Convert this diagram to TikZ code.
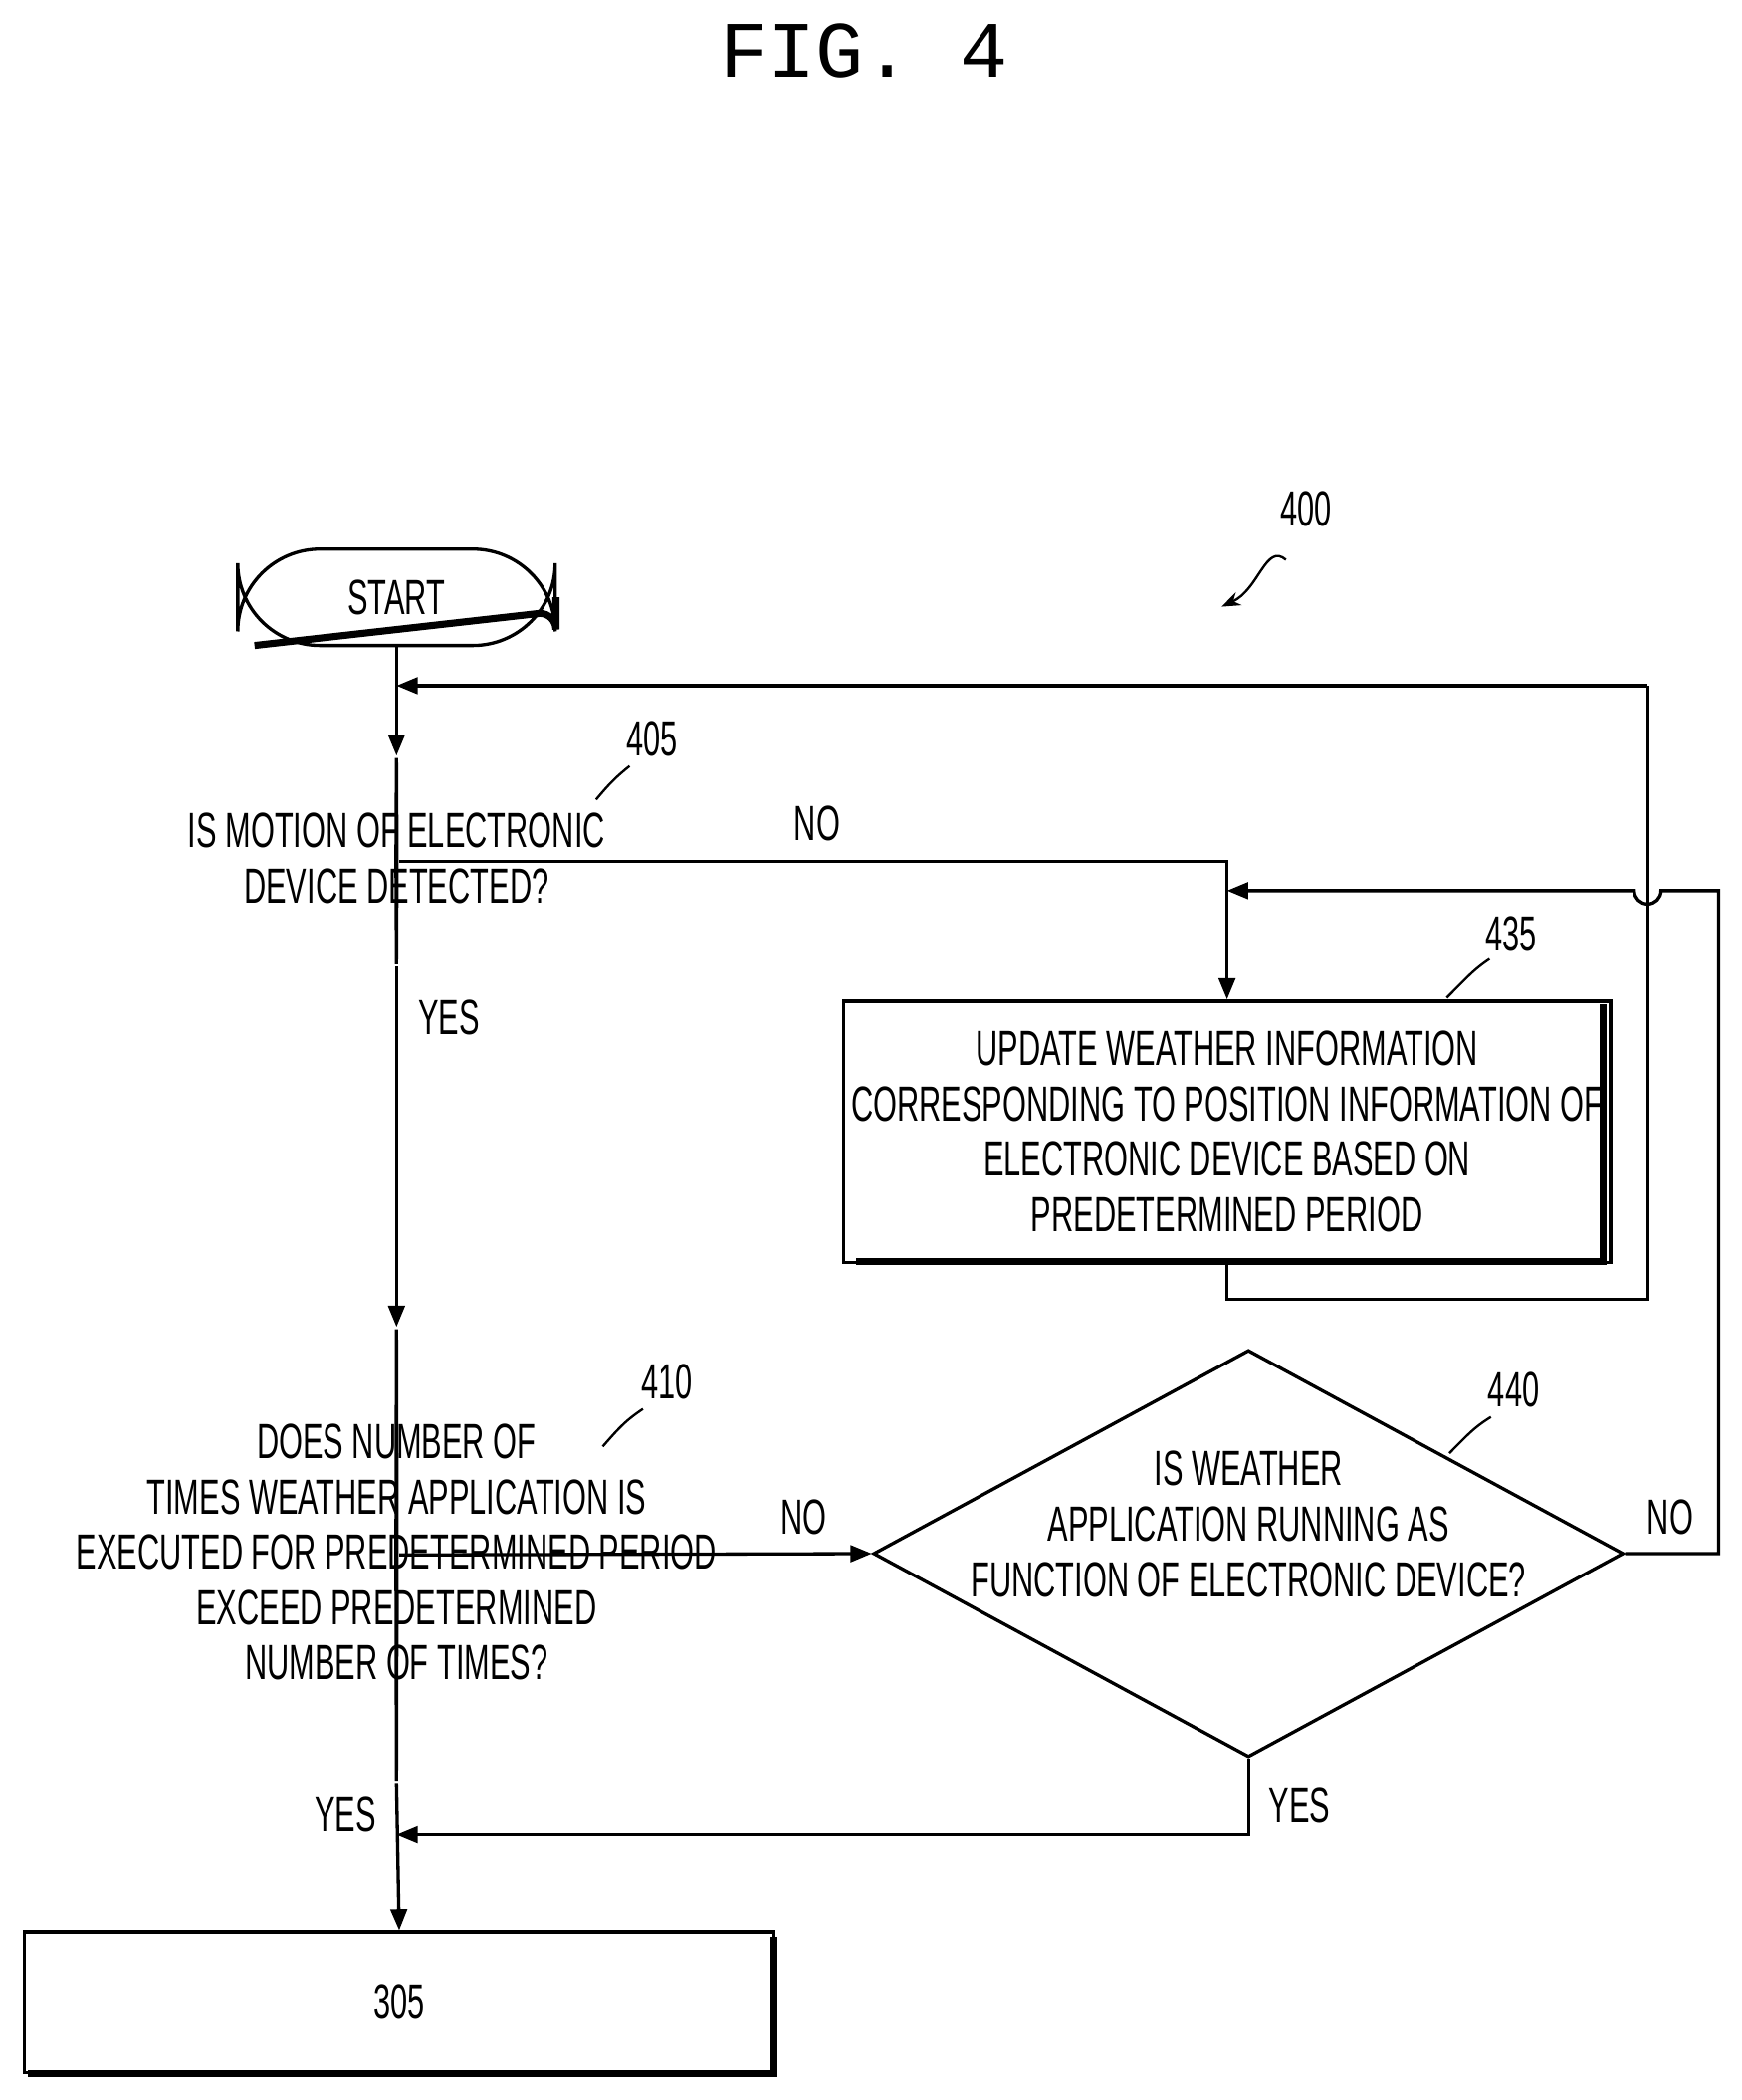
\documentclass[tikz,border=0pt]{standalone}
\usepackage{fontspec}
\setmainfont{Liberation Sans}[FakeStretch=0.62]
\newfontfamily\titlefont{Liberation Mono}
\usetikzlibrary{shapes.geometric,arrows.meta}
\begin{document}
\begin{tikzpicture}[x=0.02cm,y=-0.02cm,
  every node/.style={font=\fontsize{21}{23.5}\selectfont},
  ln/.style={line width=1.4pt},
  ar/.style={ln,-{Triangle[length=9pt,width=7pt]}},
  dia/.style={draw,ln,shape=diamond,inner sep=0pt,minimum width=#1},
  lab/.style={align=center},
  sq/.style={line width=1pt}]
\useasboundingbox (0,0) rectangle (1300,1568);
\node[font=\titlefont\fontsize{34}{34}\selectfont] (title) at (645,38) {FIG. 4};
\node (n400) at (975,380) {400};
\draw[sq,-{Stealth[length=8pt]}] (960,418) .. controls (945,405) and (940,440) .. (912,453);
% start
\draw[line width=3pt] (415,446) -- (415,470) arc(0:-90:12) -- (190,482);
\node[draw,ln,rounded corners=35pt,minimum width=237*0.02cm,minimum height=72*0.02cm] (start) at (296,446) {START};
% 405
\node[dia,minimum height=155*0.02cm] (d405) at (296,643) {};
\path (d405.center) ++(0,-2) node[lab] {IS MOTION OF ELECTRONIC\\DEVICE DETECTED?};
\node (l405) at (487,552) {405};
\draw[sq] (470,572) .. controls (460,580) and (455,585) .. (445,597);
\coordinate (j1) at (296,512);
\draw[ar] (start) -- (d405.north);
\coordinate (c1) at (1230,512);
\draw[ar] (c1) -- (j1);
% 435
\draw[line width=3pt] (1197,750) -- (1197,942) -- (639,942);
\node[draw,ln,minimum width=561*0.02cm,minimum height=195*0.02cm,lab] (b435) at (916,845)
  {UPDATE WEATHER INFORMATION\\CORRESPONDING TO POSITION INFORMATION OF\\ELECTRONIC DEVICE BASED ON\\PREDETERMINED PERIOD};
\node (l435) at (1128,697) {435};
\draw[sq] (1112,716) .. controls (1100,724) and (1095,730) .. (1080,745);
\draw[ar] (d405.east) -- (916,643) -- (b435.north);
\node (no1) at (610,615) {NO};
\node (yes1) at (335,760) {YES};
\draw[ln] (b435.south) -- (916,970) -- (1230,970) -- (c1);
% 410
\node[dia,minimum height=338*0.02cm] (d410) at (296,1161) {};
\path (d410.center) ++(0,-2) node[lab] {DOES NUMBER OF\\TIMES WEATHER APPLICATION IS\\EXECUTED FOR PREDETERMINED PERIOD\\EXCEED PREDETERMINED\\NUMBER OF TIMES?};
\node (l410) at (498,1032) {410};
\draw[sq] (480,1052) .. controls (468,1060) and (463,1065) .. (450,1080);
\draw[ar] (d405.south) -- (d410.north);
% 440
\node[dia,minimum width=560*0.02cm,minimum height=304*0.02cm] (d440) at (932,1160) {};
\path (d440.center) ++(0,-22) node[lab] {IS WEATHER\\APPLICATION RUNNING AS\\FUNCTION OF ELECTRONIC DEVICE?};
\node (l440) at (1130,1038) {440};
\draw[sq] (1113,1058) .. controls (1100,1066) and (1095,1072) .. (1082,1085);
\draw[ar] (d410.east) -- (d440.west);
\node (no2) at (600,1133) {NO};
\node (no3) at (1247,1133) {NO};
\coordinate (c2) at (1283,665);
\draw[ar] (d440.east) -- (1283,1160) -- (c2) -- (1240,665) arc(0:180:10) -- (916,665);
% 305
\coordinate (j2) at (296,1370);
\draw[ar] (d440.south) -- (932,1370) -- (j2);
\node (yes3) at (970,1348) {YES};
\node (yes2) at (258,1355) {YES};
\draw[line width=3pt] (578,1446) -- (578,1548) -- (21,1548);
\node[draw,ln,minimum width=560*0.02cm,minimum height=105*0.02cm] (b305) at (298,1495) {305};
\draw[ar] (d410.south) -- (b305.north);
\end{tikzpicture}
\end{document}
